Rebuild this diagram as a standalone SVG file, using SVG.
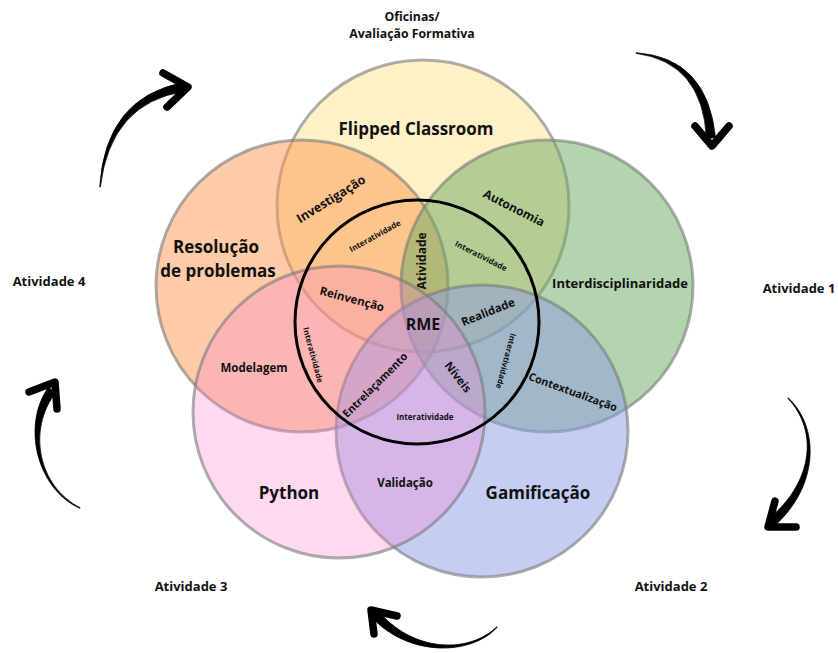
<svg xmlns="http://www.w3.org/2000/svg" width="838" height="653" viewBox="0 0 838 653">
  <style>
    text { font-family: "Open Sans", "Liberation Sans", sans-serif; font-weight: 700; fill: #111; }
    .set { stroke: #7a7a7a; stroke-opacity: .6; stroke-width: 3; }
    .title { font-size: 17px; text-anchor: middle; }
    .mid { font-size: 11.5px; text-anchor: middle; }
    .small { font-size: 8px; text-anchor: middle; }
    .step { font-size: 13px; text-anchor: middle; }
    .stroke-body { fill: #000; stroke: #000; stroke-width: 0.8; stroke-linejoin: round; }
    .stroke-head { fill: none; stroke: #000; stroke-width: 7.5; stroke-linecap: round; stroke-linejoin: round; }
  </style>
  <rect width="838" height="653" fill="#fff"/>

  <!-- five overlapping sets, each semi-transparent -->
  <g id="flipped-classroom">
    <circle class="set" cx="423" cy="206" r="146" fill="#FFE38F" fill-opacity=".5"/>
    <text class="title" x="416" y="135">Flipped Classroom</text>
  </g>
  <g id="resolucao-problemas">
    <circle class="set" cx="302" cy="286" r="146" fill="#FB9751" fill-opacity=".5"/>
    <text class="title" x="216" y="253">Resolução</text>
    <text class="title" x="218" y="277">de problemas</text>
  </g>
  <g id="interdisciplinaridade">
    <circle class="set" cx="547" cy="286" r="146" fill="#69A961" fill-opacity=".5"/>
    <text x="620" y="288" style="font-size:13px;text-anchor:middle">Interdisciplinaridade</text>
  </g>
  <g id="gamificacao">
    <circle class="set" cx="482" cy="431" r="146" fill="#8D9BE5" fill-opacity=".5"/>
    <text class="title" x="538" y="499">Gamificação</text>
  </g>
  <g id="python">
    <circle class="set" cx="339" cy="412" r="146" fill="#F884CD" fill-opacity=".3"/>
    <text class="title" x="289" y="499">Python</text>
  </g>

  <!-- central RME ring and the labels of the intersections -->
  <g id="rme">
    <circle cx="417" cy="322" r="122" fill="none" stroke="#000" stroke-width="3"/>
    <text x="423" y="330" style="font-size:16px;text-anchor:middle">RME</text>
  </g>
  <g id="intersections">
    <text class="mid" transform="translate(331 199) rotate(-32)" dy=".35em" style="font-size:12.5px">Investigação</text>
    <text class="mid" transform="translate(514 208) rotate(27)" dy=".35em" style="font-size:12px">Autonomia</text>
    <text class="mid" transform="translate(422 261) rotate(-90)" dy=".35em" style="font-size:12px">Atividade</text>
    <text class="mid" transform="translate(352 299) rotate(15)" dy=".35em">Reinvenção</text>
    <text class="mid" transform="translate(488 312) rotate(-22)" dy=".35em">Realidade</text>
    <text class="mid" transform="translate(375 385) rotate(-45)" dy=".35em" style="font-size:10.8px">Entrelaçamento</text>
    <text class="mid" transform="translate(458 377) rotate(52)" dy=".35em">Níveis</text>
    <text class="mid" transform="translate(573 392) rotate(20)" dy=".35em" style="font-size:10.8px">Contextualização</text>
    <text class="mid" x="254" y="372">Modelagem</text>
    <text class="mid" x="405" y="487">Validação</text>
    <text class="small" transform="translate(375 236) rotate(-29)" dy=".35em">Interatividade</text>
    <text class="small" transform="translate(481 256) rotate(27)" dy=".35em">Interatividade</text>
    <text class="small" transform="translate(313 355) rotate(75)" dy=".35em">Interatividade</text>
    <text class="small" transform="translate(506 361) rotate(105)" dy=".35em">Interatividade</text>
    <text class="small" x="425" y="420">Interatividade</text>
  </g>

  <!-- cycle stages -->
  <g id="oficinas">
    <text class="step" x="412" y="21" style="font-size:12.3px">Oficinas/</text>
    <text class="step" x="412" y="38" style="font-size:12.3px">Avaliação Formativa</text>
  </g>
  <g id="atividade-1"><text class="step" x="799" y="293">Atividade 1</text></g>
  <g id="atividade-2"><text class="step" x="671" y="591">Atividade 2</text></g>
  <g id="atividade-3"><text class="step" x="191" y="591">Atividade 3</text></g>
  <g id="atividade-4"><text class="step" x="49" y="286">Atividade 4</text></g>

  <!-- brush-stroke arrows running clockwise between stages -->
  <g id="connectors">
    <g>
      <path class="stroke-body" d="M100.3,187 Q110.6,102.4 184.8,91.4 L183.2,82.6 Q105.4,97.6 99.7,187 Z"/>
      <path class="stroke-head" d="M163,73 L188,87 L167,107"/>
    </g>
    <g>
      <path class="stroke-body" d="M636,53.3 Q702.5,62.4 706.5,138.3 L715.5,137.7 Q707.5,57.6 636,52.7 Z"/>
      <path class="stroke-head" d="M695,126 L712,146 L729,126"/>
    </g>
    <g>
      <path class="stroke-body" d="M787.8,398.2 C818.9,431.1 812.7,482.3 769.1,518.6 L774.9,525.4 C817.3,487.7 821.1,428.9 788.2,397.8 Z"/>
      <path class="stroke-head" d="M775,501 L768,527 L796,527"/>
    </g>
    <g>
      <path class="stroke-body" d="M496.8,626.8 C468.9,654 412.7,652.7 377.4,610.1 L370.6,615.9 C407.3,657.3 471.1,656 497.2,627.2 Z"/>
      <path class="stroke-head" d="M374,634 L371,610 L397,616"/>
    </g>
    <g>
      <path class="stroke-body" d="M80.1,507.7 C38.6,486.6 26.8,430.1 55.6,392.7 L48.4,387.3 C21.2,425.9 37.4,489.4 79.9,508.3 Z"/>
      <path class="stroke-head" d="M29,392 L55,382 L57,409"/>
    </g>
  </g>
</svg>
